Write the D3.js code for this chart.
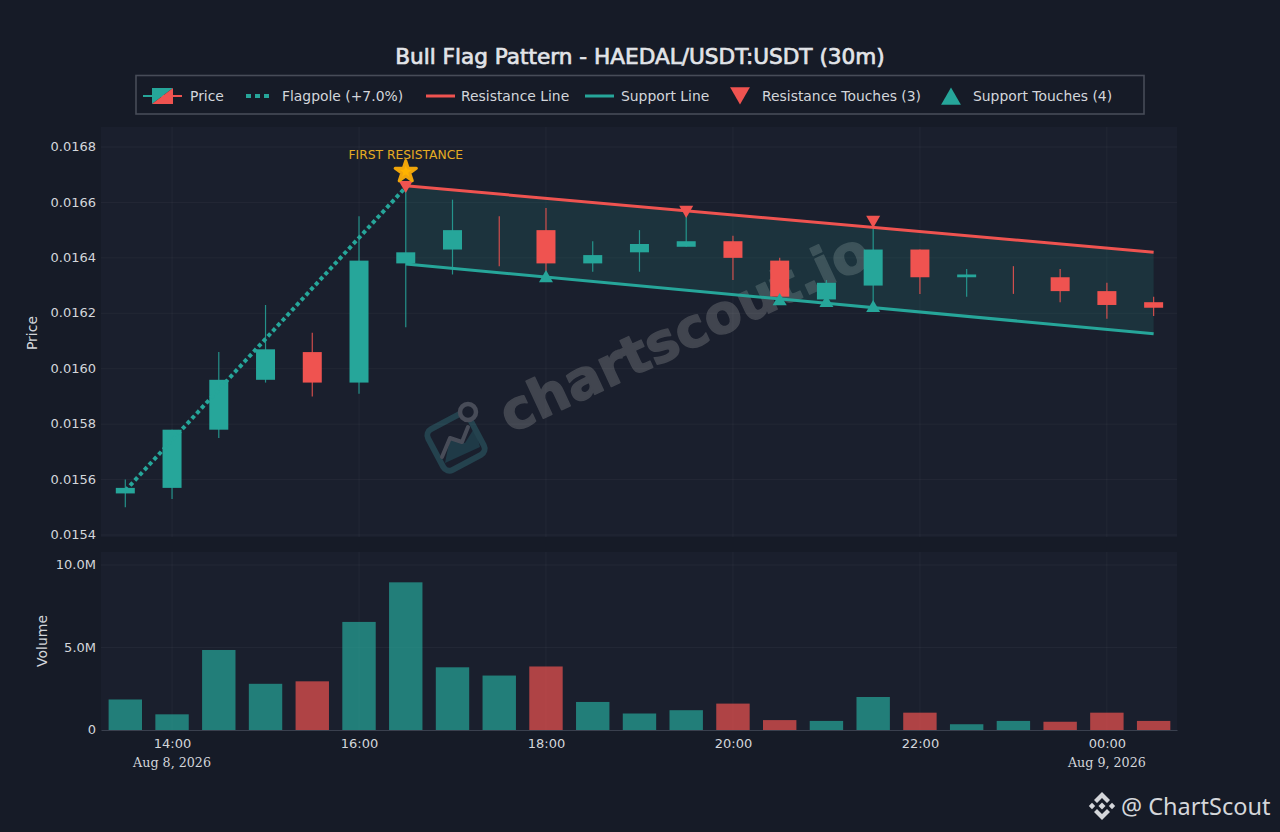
<!DOCTYPE html>
<html>
<head>
<meta charset="utf-8">
<script src="https://cdn.jsdelivr.net/npm/d3@7"></script>
<style>
    html, body { margin: 0; padding: 0; background: #161b27; }
    svg { display: block; }
    text { font-family: "DejaVu Sans", sans-serif; }
</style>
</head>
<body>
<div id="chart"></div>
<script>
// half hour candles, 13:30 Aug 8 -> 00:30 Aug 9
const times = ["2026-08-08T13:30Z", "2026-08-08T14:00Z", "2026-08-08T14:30Z", "2026-08-08T15:00Z", "2026-08-08T15:30Z",
    "2026-08-08T16:00Z", "2026-08-08T16:30Z", "2026-08-08T17:00Z", "2026-08-08T17:30Z", "2026-08-08T18:00Z",
    "2026-08-08T18:30Z", "2026-08-08T19:00Z", "2026-08-08T19:30Z", "2026-08-08T20:00Z", "2026-08-08T20:30Z",
    "2026-08-08T21:00Z", "2026-08-08T21:30Z", "2026-08-08T22:00Z", "2026-08-08T22:30Z", "2026-08-08T23:00Z",
    "2026-08-08T23:30Z", "2026-08-09T00:00Z", "2026-08-09T00:30Z"].map(d => new Date(d));
const opens = [0.01555, 0.01557, 0.01578, 0.01596, 0.01606, 0.01595, 0.01638, 0.01643, 0.01645, 0.01650, 0.01638, 0.01642,
    0.01644, 0.01646, 0.01639, 0.01625, 0.01630, 0.01643, 0.01633, 0.01632, 0.01633, 0.01628, 0.01624];
const closes = [0.01557, 0.01578, 0.01596, 0.01607, 0.01595, 0.01639, 0.01642, 0.01650, 0.01645, 0.01638, 0.01641, 0.01645,
    0.01646, 0.01640, 0.01626, 0.01631, 0.01643, 0.01633, 0.01634, 0.01632, 0.01628, 0.01623, 0.01622];
const highs = [0.01560, 0.01578, 0.01606, 0.01623, 0.01613, 0.01655, 0.01666, 0.01661, 0.01655, 0.01658, 0.01646, 0.01650,
    0.01656, 0.01648, 0.01640, 0.01632, 0.01652, 0.01643, 0.01636, 0.01637, 0.01636, 0.01631, 0.01626];
const lows = [0.01550, 0.01553, 0.01575, 0.01595, 0.01590, 0.01591, 0.01615, 0.01634, 0.01637, 0.01634, 0.01635, 0.01635,
    0.01644, 0.01632, 0.01625, 0.01623, 0.01621, 0.01627, 0.01626, 0.01627, 0.01624, 0.01618, 0.01619];
const volumes = [1.85, 0.95, 4.85, 2.8, 2.95, 6.55, 8.95, 3.8, 3.3, 3.85, 1.7, 1.0, 1.2, 1.6, 0.6, 0.55, 2.0, 1.05, 0.35, 0.55, 0.5, 1.05, 0.55];
const volumeUp = [1, 1, 1, 1, 0, 1, 1, 1, 1, 0, 1, 1, 1, 0, 0, 1, 1, 0, 1, 1, 0, 0, 0];

const priceTicks = [0.0154, 0.0156, 0.0158, 0.0160, 0.0162, 0.0164, 0.0166, 0.0168];
const volumeTicks = [0, 5, 10];
const hourTicks = ["2026-08-08T14:00Z", "2026-08-08T16:00Z", "2026-08-08T18:00Z", "2026-08-08T20:00Z",
    "2026-08-08T22:00Z", "2026-08-09T00:00Z"].map(d => new Date(d));
const dateLabels = { "14:00": "Aug 8, 2026", "00:00": "Aug 9, 2026" };

// pattern lines: [16:30, 00:30]
const lineIdx = [6, 22];
const resistanceLine = [0.01666, 0.01642];
const supportLine = [0.016378, 0.016126];
const flagpoleIdx = [0, 6];
const flagpole = [0.01556, 0.016655];
const resistanceTouches = [[6, 0.016663], [12, 0.016573], [16, 0.016537]];
const supportTouches = [[9, 0.016327], [14, 0.016244], [15, 0.016237], [16, 0.016219]];

const GREEN = "#26a69a", RED = "#ef5350", TEXT = "#d3d6db", GRID = "rgba(255,255,255,0.04)";
const W = 1280, H = 832;
const left = 101, right = 1177, priceTop = 127, priceBottom = 537, volTop = 552, volBottom = 730;

const svg = d3.select("#chart").append("svg").attr("width", W).attr("height", H);
svg.append("rect").attr("width", W).attr("height", H).attr("fill", "#161b27");

const xScale = d3.scaleUtc()
    .domain([new Date("2026-08-08T13:14:24Z"), new Date("2026-08-09T00:45:00Z")])
    .range([left, right]);
const yScale = d3.scaleLinear().domain([0.0154, 0.0168]).range([535, 147]);
const volScale = d3.scaleLinear().domain([0, 10]).range([volBottom, 565]);

svg.append("rect").attr("x", left).attr("y", priceTop).attr("width", right - left).attr("height", priceBottom - priceTop).attr("fill", "#1a1f2d");
svg.append("rect").attr("x", left).attr("y", volTop).attr("width", right - left).attr("height", volBottom - volTop).attr("fill", "#1a1f2d");

// watermark goes under everything else in the price panel
const mark = svg.append("g");
mark.append("path").attr("d", "M445,463 L480,447 L475,427 L465,443 L450,438 Z").attr("fill", "#1f3a47");
mark.append("rect").attr("x", -23).attr("y", -23).attr("width", 46).attr("height", 46).attr("rx", 7)
    .attr("transform", "translate(456,442) rotate(-28)")
    .attr("fill", "none").attr("stroke", "#24424e").attr("stroke-width", 6);
mark.append("path").attr("d", "M442,457 L450,438 L462,442 L468,427").attr("fill", "none").attr("stroke", "#484c58").attr("stroke-width", 4).attr("stroke-linejoin", "round").attr("stroke-linecap", "round");
mark.append("circle").attr("cx", 468).attr("cy", 412).attr("r", 8).attr("fill", "#1a1f2d").attr("stroke", "#484c58").attr("stroke-width", 4.5);
svg.append("text").text("chartscout.io")
    .attr("transform", "translate(692,349) rotate(-25)")
    .attr("text-anchor", "middle")
    .style("font-family", "DejaVu Sans")
    .style("font-weight", "bold")
    .style("font-size", "54px")
    .attr("stroke", "#41454f").attr("stroke-width", 1.5).attr("stroke-linejoin", "round")
    .attr("fill", "#41454f");

// grid
const gridG = svg.append("g").attr("stroke", GRID).attr("stroke-width", 1);
priceTicks.forEach(t => gridG.append("line").attr("x1", left).attr("x2", right).attr("y1", yScale(t)).attr("y2", yScale(t)));
volumeTicks.slice(1).forEach(t => gridG.append("line").attr("x1", left).attr("x2", right).attr("y1", volScale(t)).attr("y2", volScale(t)));
hourTicks.forEach(t => {
    gridG.append("line").attr("x1", xScale(t)).attr("x2", xScale(t)).attr("y1", priceTop).attr("y2", priceBottom);
    gridG.append("line").attr("x1", xScale(t)).attr("x2", xScale(t)).attr("y1", volTop).attr("y2", volBottom);
});

// axes
const yAxis = svg.append("g").attr("transform", `translate(${left},-0.5)`)
    .call(d3.axisLeft(yScale).tickValues(priceTicks).tickFormat(d3.format(".4f")).tickSize(0).tickPadding(5));
const volAxis = svg.append("g").attr("transform", `translate(${left},-0.5)`)
    .call(d3.axisLeft(volScale).tickValues(volumeTicks).tickFormat(d => d === 0 ? "0" : d.toFixed(1) + "M").tickSize(0).tickPadding(5));
const xAxis = svg.append("g").attr("transform", `translate(0,${volBottom})`)
    .call(d3.axisBottom(xScale).tickValues(hourTicks).tickFormat(d3.utcFormat("%H:%M")).tickSize(0).tickPadding(9));
[yAxis, volAxis, xAxis].forEach(a => {
    a.selectAll("text").style("font-size", "13px").style("font-family", "DejaVu Sans").attr("fill", TEXT);
    a.select(".domain").attr("stroke", "#3a404e");
});
yAxis.select(".domain").remove();
volAxis.select(".domain").remove();

svg.selectAll(".date-label").data(hourTicks.filter(t => dateLabels[d3.utcFormat("%H:%M")(t)])).enter()
    .append("text").attr("class", "date-label")
    .attr("x", d => xScale(d)).attr("y", 767)
    .attr("text-anchor", "middle")
    .style("font-family", "DejaVu Serif").style("font-size", "12.7px")
    .attr("fill", TEXT)
    .text(d => dateLabels[d3.utcFormat("%H:%M")(d)]);

svg.append("text").text("Price").attr("transform", "translate(37,333) rotate(-90)").attr("text-anchor", "middle").style("font-size", "14px").attr("fill", TEXT);
svg.append("text").text("Volume").attr("transform", "translate(47,641) rotate(-90)").attr("text-anchor", "middle").style("font-size", "14px").attr("fill", TEXT);

// flag channel
const channel = d3.area()
    .x(i => xScale(times[lineIdx[i]]))
    .y0(i => yScale(supportLine[i]))
    .y1(i => yScale(resistanceLine[i]));
svg.append("path").attr("d", channel([0, 1])).attr("fill", GREEN).attr("fill-opacity", 0.15);

// candles, doji (17:30, 23:00) come out red
const candles = svg.append("g").selectAll("g").data(times).enter().append("g");
const candleColor = i => closes[i] > opens[i] ? GREEN : RED;
candles.append("line")
    .attr("x1", d => xScale(d)).attr("x2", d => xScale(d))
    .attr("y1", (d, i) => yScale(highs[i])).attr("y2", (d, i) => yScale(lows[i]))
    .attr("stroke", (d, i) => candleColor(i)).attr("stroke-width", 1.2).attr("stroke-opacity", 0.85);
candles.append("rect")
    .attr("x", d => xScale(d) - 9.5).attr("width", 19)
    .attr("y", (d, i) => yScale(Math.max(opens[i], closes[i])))
    .attr("height", (d, i) => Math.abs(yScale(opens[i]) - yScale(closes[i])))
    .attr("fill", (d, i) => candleColor(i));

// volume
svg.append("g").selectAll("rect").data(times).enter().append("rect")
    .attr("x", d => xScale(d) - 16.7).attr("width", 33.4)
    .attr("y", (d, i) => volScale(volumes[i]))
    .attr("height", (d, i) => volBottom - volScale(volumes[i]))
    .attr("fill", (d, i) => volumeUp[i] ? GREEN : RED).attr("fill-opacity", 0.7);

// flagpole + pattern lines
const lineGen = d3.line().x(d => xScale(times[d[0]])).y(d => yScale(d[1]));
svg.append("path").attr("d", lineGen(flagpoleIdx.map((k, i) => [k, flagpole[i]])))
    .attr("fill", "none").attr("stroke", GREEN).attr("stroke-width", 4).attr("stroke-dasharray", "4 3");
svg.append("path").attr("d", lineGen(lineIdx.map((k, i) => [k, resistanceLine[i]])))
    .attr("fill", "none").attr("stroke", RED).attr("stroke-width", 3);
svg.append("path").attr("d", lineGen(lineIdx.map((k, i) => [k, supportLine[i]])))
    .attr("fill", "none").attr("stroke", GREEN).attr("stroke-width", 3);

// touches
const tri = d3.symbol().type(d3.symbolTriangle);
svg.append("g").selectAll("path").data(resistanceTouches).enter().append("path")
    .attr("d", tri.size(85)())
    .attr("transform", d => `translate(${xScale(times[d[0]])},${yScale(d[1])}) rotate(180)`)
    .attr("fill", RED);
svg.append("g").selectAll("path").data(supportTouches).enter().append("path")
    .attr("d", tri.size(85)())
    .attr("transform", d => `translate(${xScale(times[d[0]])},${yScale(d[1])})`)
    .attr("fill", GREEN);

// first resistance star
const starX = xScale(times[6]), starY = yScale(resistanceLine[0]) - 14;
svg.append("path").attr("d", d3.symbol().type(d3.symbolStar).size(140)())
    .attr("transform", `translate(${starX},${starY})`)
    .attr("fill", "#ffb300").attr("stroke", "#f0a50a").attr("stroke-width", 3).attr("stroke-linejoin", "round");
svg.append("text").text("FIRST RESISTANCE")
    .attr("x", starX).attr("y", 159).attr("text-anchor", "middle")
    .style("font-size", "12.3px").attr("fill", "#e6ac22");

// title
svg.append("text").text("Bull Flag Pattern - HAEDAL/USDT:USDT (30m)")
    .attr("x", 640).attr("y", 64).attr("text-anchor", "middle")
    .style("font-family", "DejaVu Sans").style("font-size", "21.6px")
    .attr("stroke", "#e2e4e8").attr("stroke-width", 0.7)
    .attr("fill", "#e2e4e8");

// legend
svg.append("rect").attr("x", 136).attr("y", 75.5).attr("width", 1008).attr("height", 38.5)
    .attr("fill", "#161b27").attr("stroke", "#474c58").attr("stroke-width", 1.6);
const legendLabels = ["Price", "Flagpole (+7.0%)", "Resistance Line", "Support Line", "Resistance Touches (3)", "Support Touches (4)"];
const legendLabelX = [190, 282, 461, 621, 762, 973];
svg.selectAll(".legend-label").data(legendLabels).enter().append("text")
    .attr("class", "legend-label")
    .attr("x", (d, i) => legendLabelX[i]).attr("y", 100.5)
    .style("font-size", "13.9px").attr("fill", TEXT)
    .text(d => d);
const legendY = 96;
svg.append("line").attr("x1", 143).attr("x2", 162).attr("y1", legendY).attr("y2", legendY).attr("stroke", GREEN).attr("stroke-width", 2);
svg.append("line").attr("x1", 162).attr("x2", 182).attr("y1", legendY).attr("y2", legendY).attr("stroke", RED).attr("stroke-width", 2);
svg.append("path").attr("d", "M152,88 L173,88 L152,104 Z").attr("fill", GREEN);
svg.append("path").attr("d", "M173,88 L173,104 L152,104 Z").attr("fill", RED);
svg.append("line").attr("x1", 246).attr("x2", 271).attr("y1", legendY).attr("y2", legendY).attr("stroke", GREEN).attr("stroke-width", 4).attr("stroke-dasharray", "5 4");
svg.append("line").attr("x1", 426).attr("x2", 455).attr("y1", legendY).attr("y2", legendY).attr("stroke", RED).attr("stroke-width", 3);
svg.append("line").attr("x1", 585).attr("x2", 614).attr("y1", legendY).attr("y2", legendY).attr("stroke", GREEN).attr("stroke-width", 3);
svg.append("path").attr("d", tri.size(170)()).attr("transform", "translate(740,93) rotate(180)").attr("fill", RED);
svg.append("path").attr("d", tri.size(170)()).attr("transform", "translate(951,99)").attr("fill", GREEN);

// footer logo
const logo = svg.append("g").attr("transform", "translate(1102,806)").attr("fill", "#d4d6da");
const diamond = (cx, cy, r) => `M${cx},${cy - r} L${cx + r},${cy} L${cx},${cy + r} L${cx - r},${cy} Z`;
logo.append("path").attr("d", diamond(0, 0, 3.5));
logo.append("path").attr("d", diamond(-10, 0, 3.2));
logo.append("path").attr("d", diamond(10, 0, 3.2));
logo.append("path").attr("d", "M0,-14 L8,-6 L5,-3 L0,-8 L-5,-3 L-8,-6 Z");
logo.append("path").attr("d", "M0,14 L8,6 L5,3 L0,8 L-5,3 L-8,6 Z");
svg.append("text").text("@ ChartScout")
    .attr("x", 1121).attr("y", 814.5)
    .style("font-family", "Noto Sans").style("font-size", "23.5px")
    .attr("fill", "#d4d6da");
</script>
</body>
</html>
